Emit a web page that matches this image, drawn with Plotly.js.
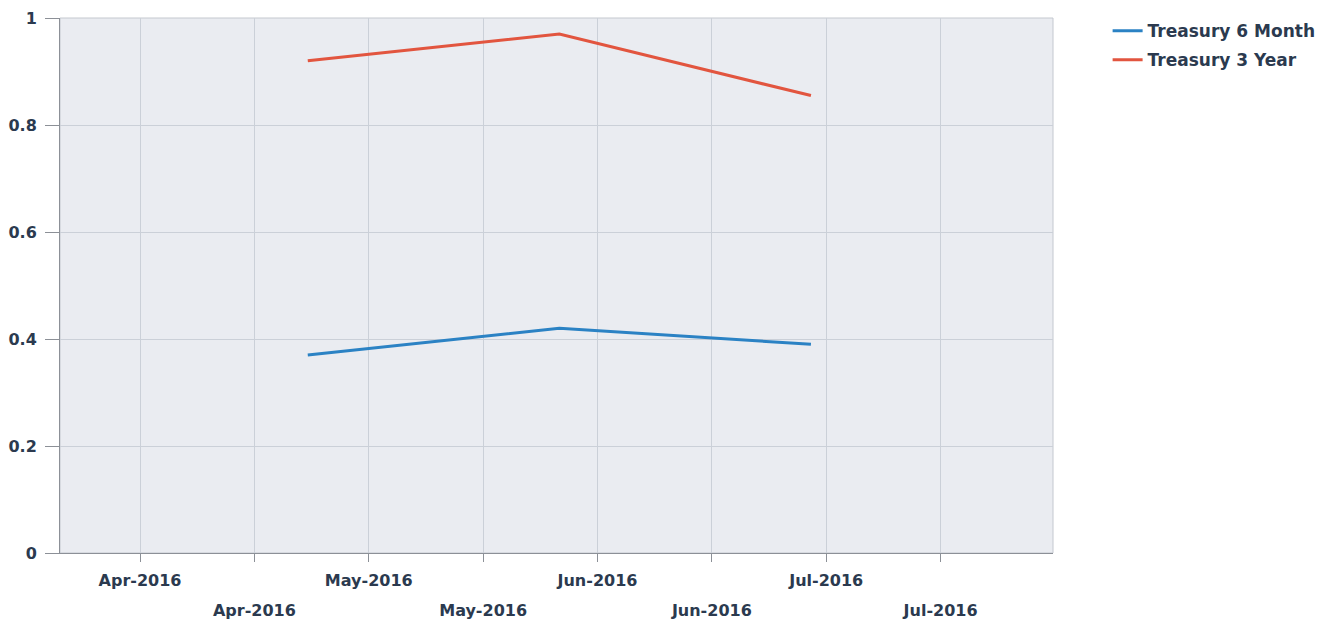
<!DOCTYPE html>
<html>
<head>
<meta charset="utf-8">
<script src="https://cdn.plot.ly/plotly-3.0.1.min.js"></script>
<style>html,body{margin:0;padding:0;background:#fff;}#chart{width:1333px;height:622px;}</style>
</head>
<body>
<div id="chart"></div>
<script>
// Data
const dates = ['2016-04-23', '2016-05-26', '2016-06-28'];
const treasury6Month = [0.37, 0.42, 0.39];
const treasury3Year = [0.92, 0.97, 0.855];
const seriesNames = ['Treasury 6 Month', 'Treasury 3 Year'];

// x tick labels (two staggered rows)
const tickRow1Vals = ['2016-04-01', '2016-05-01', '2016-05-31', '2016-06-30'];
const tickRow1Text = ['Apr-2016', 'May-2016', 'Jun-2016', 'Jul-2016'];
const tickRow2Vals = ['2016-04-16', '2016-05-16', '2016-06-15', '2016-07-15'];
const tickRow2Text = ['Apr-2016', 'May-2016', 'Jun-2016', 'Jul-2016'];
const yTickVals = [0, 0.2, 0.4, 0.6, 0.8, 1];
const yTickText = ['0', '0.2', '0.4', '0.6', '0.8', '1'];

const textColor = '#2b3a4f';
const fontFam = 'DejaVu Sans, Verdana, sans-serif';
const xRange = ['2016-03-21 12:00', '2016-07-29 18:00'];

const traces = [
  {x: dates, y: treasury6Month, name: seriesNames[0], type: 'scatter', mode: 'lines',
   legendgroup: 'a', line: {color: '#2b82c4', width: 3}},
  {x: dates, y: treasury3Year, name: seriesNames[1], type: 'scatter', mode: 'lines',
   legendgroup: 'b', line: {color: '#e2553f', width: 3}},
  {x: [], y: [], xaxis: 'x2', yaxis: 'y', showlegend: false, hoverinfo: 'skip', type: 'scatter'}
];

const tickFont = {family: fontFam, size: 16, color: textColor, weight: 'bold'};

const layout = {
  width: 1333, height: 622,
  margin: {l: 60, r: 278, t: 18, b: 69},
  paper_bgcolor: '#ffffff',
  plot_bgcolor: '#eaecf1',
  font: {family: fontFam, size: 16, color: textColor, weight: 'bold'},
  showlegend: true,
  legend: {x: 1.055, y: 1.009, xanchor: 'left', yanchor: 'top',
           traceorder: 'grouped', tracegroupgap: 4,
           font: {family: fontFam, size: 17, color: textColor, weight: 'bold'},
           bgcolor: 'rgba(0,0,0,0)'},
  xaxis: {type: 'date', range: xRange, tickmode: 'array',
          tickvals: tickRow1Vals, ticktext: tickRow1Text,
          showgrid: true, gridcolor: '#cbd0d8', gridwidth: 1,
          showline: true, linecolor: '#8c9097', linewidth: 1,
          ticks: 'outside', ticklen: 8, tickcolor: '#8c9097',
          ticklabelstandoff: 5, zeroline: false, mirror: false,
          tickfont: tickFont},
  xaxis2: {type: 'date', range: xRange, overlaying: 'x', matches: 'x', anchor: 'y', side: 'bottom',
           tickmode: 'array', tickvals: tickRow2Vals, ticktext: tickRow2Text,
           showgrid: true, gridcolor: '#cbd0d8', gridwidth: 1,
           showline: false, ticks: 'outside', ticklen: 8, tickcolor: '#8c9097',
           ticklabelstandoff: 35, zeroline: false,
           tickfont: tickFont},
  yaxis: {range: [0, 1], tickmode: 'array', tickvals: yTickVals, ticktext: yTickText,
          showgrid: true, gridcolor: '#cbd0d8', gridwidth: 1,
          showline: true, linecolor: '#8c9097', linewidth: 1,
          ticks: 'outside', ticklen: 14, tickcolor: '#8c9097',
          zeroline: false, ticklabelstandoff: 5,
          tickfont: tickFont},
  shapes: [
    {type: 'rect', xref: 'paper', yref: 'paper', x0: 0, x1: 1, y0: 0, y1: 1,
     line: {color: '#c4c8cf', width: 1}, fillcolor: 'rgba(0,0,0,0)', layer: 'below'}
  ]
};

Plotly.newPlot('chart', traces, layout, {displayModeBar: false, staticPlot: true});
</script>
</body>
</html>
